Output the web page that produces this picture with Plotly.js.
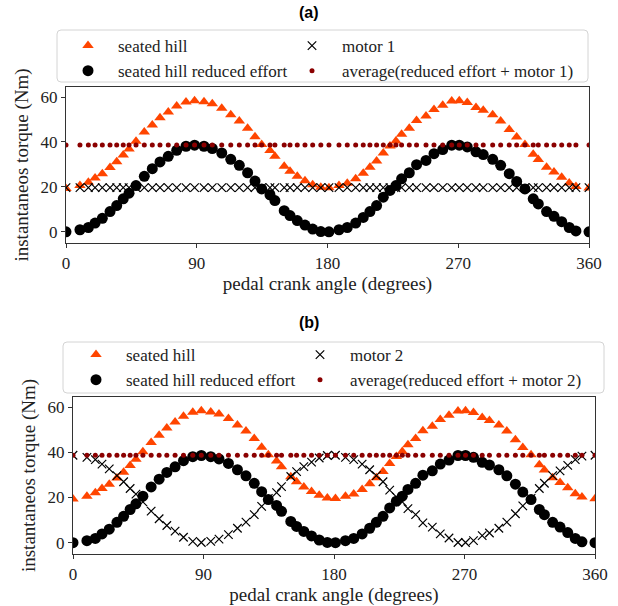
<!DOCTYPE html>
<html>
<head>
<meta charset="utf-8">
<script src="https://cdn.plot.ly/plotly-3.0.1.min.js"></script>
<style>html,body{margin:0;padding:0;background:#fff;}#chart{width:618px;height:606px;}</style>
</head>
<body>
<div id="chart"></div>
<script>
// pedal crank angle (degrees)
var angle = [0, 9.6, 15.4, 20, 25, 30.3, 34.9, 39.4, 43.4, 48.2, 53.9, 59.4, 64.7, 70.4, 76.2, 82.6, 88.5, 95, 100.7, 107.2, 113.4, 119.3, 125, 130.1, 134.7, 140.4, 143.8, 150.2, 154.2, 159.2, 164.5, 169.8, 175.4, 181, 187.9, 193.6, 199.4, 204.6, 209.2, 213.8, 218.4, 223, 227.1, 231, 236.3, 241.3, 247.8, 253.3, 259.3, 265.5, 270.7, 276.2, 282.2, 287.2, 293.7, 299.2, 305.1, 310.2, 315.9, 321.6, 325.1, 330.8, 335.9, 341.2, 346.4, 351, 360];

var seatedHill = [19.3, 20.6, 22.1, 24.0, 25.9, 28.6, 31.2, 34.2, 36.9, 40.3, 44.4, 47.6, 50.8, 53.4, 56.0, 57.8, 58.4, 57.9, 57.0, 55.0, 52.1, 49.4, 46.1, 42.3, 38.9, 36.2, 33.6, 29.2, 27.0, 24.7, 22.7, 21.0, 19.8, 19.6, 20.6, 21.6, 23.6, 26.1, 28.8, 31.5, 35.1, 38.2, 40.4, 43.4, 46.1, 49.6, 51.6, 54.5, 56.4, 58.3, 58.4, 57.6, 55.4, 54.1, 52.1, 49.4, 45.6, 42.2, 38.9, 34.5, 32.2, 28.8, 26.6, 24.3, 21.7, 20.2, 19.5];

var reducedEffort = [0, 0.9, 1.9, 3.9, 6.0, 9.0, 11.7, 14.7, 17.2, 20.6, 24.7, 28.1, 31.1, 33.6, 36.3, 38.1, 38.6, 38.1, 37.1, 35.1, 32.3, 29.6, 26.3, 22.6, 19.1, 16.5, 13.9, 9.4, 7.2, 5.0, 3.0, 1.2, 0.1, 0.0, 0.9, 1.9, 3.9, 6.4, 9.0, 11.7, 15.4, 18.4, 20.6, 23.6, 26.3, 29.9, 31.8, 34.8, 36.6, 38.6, 38.6, 37.8, 35.6, 34.4, 32.3, 29.6, 25.9, 22.4, 19.1, 14.7, 12.4, 9.0, 6.9, 4.5, 1.9, 0.4, 0.0];

var motor1 = [19.7, 19.7, 19.7, 19.7, 19.7, 19.7, 19.7, 19.7, 19.7, 19.7, 19.7, 19.7, 19.7, 19.7, 19.7, 19.7, 19.7, 19.7, 19.7, 19.7, 19.7, 19.7, 19.7, 19.7, 19.7, 19.7, 19.7, 19.7, 19.7, 19.7, 19.7, 19.7, 19.7, 19.7, 19.7, 19.7, 19.7, 19.7, 19.7, 19.7, 19.7, 19.7, 19.7, 19.7, 19.7, 19.7, 19.7, 19.7, 19.7, 19.7, 19.7, 19.7, 19.7, 19.7, 19.7, 19.7, 19.7, 19.7, 19.7, 19.7, 19.7, 19.7, 19.7, 19.7, 19.7, 19.7, 19.7];

var average1 = [38.7, 38.7, 38.7, 38.7, 38.7, 38.7, 38.7, 38.7, 38.7, 38.7, 38.7, 38.7, 38.7, 38.7, 38.7, 38.7, 38.7, 38.7, 38.7, 38.7, 38.7, 38.7, 38.7, 38.7, 38.7, 38.7, 38.7, 38.7, 38.7, 38.7, 38.7, 38.7, 38.7, 38.7, 38.7, 38.7, 38.7, 38.7, 38.7, 38.7, 38.7, 38.7, 38.7, 38.7, 38.7, 38.7, 38.7, 38.7, 38.7, 38.7, 38.7, 38.7, 38.7, 38.7, 38.7, 38.7, 38.7, 38.7, 38.7, 38.7, 38.7, 38.7, 38.7, 38.7, 38.7, 38.7, 38.7];

var motor2 = [38.7, 37.8, 36.8, 34.8, 32.7, 29.7, 27.0, 24.0, 21.5, 18.1, 14.0, 10.6, 7.6, 5.1, 2.4, 0.6, 0.1, 0.6, 1.6, 3.6, 6.4, 9.1, 12.4, 16.1, 19.6, 22.2, 24.8, 29.3, 31.5, 33.7, 35.7, 37.5, 38.6, 38.7, 37.8, 36.8, 34.8, 32.3, 29.7, 27.0, 23.3, 20.3, 18.1, 15.1, 12.4, 8.8, 6.9, 3.9, 2.1, 0.1, 0.1, 0.9, 3.1, 4.3, 6.4, 9.1, 12.8, 16.3, 19.6, 24.0, 26.3, 29.7, 31.8, 34.2, 36.8, 38.3, 38.7];

var average2 = [38.7, 38.7, 38.7, 38.7, 38.7, 38.7, 38.7, 38.7, 38.7, 38.7, 38.7, 38.7, 38.7, 38.7, 38.7, 38.7, 38.7, 38.7, 38.7, 38.7, 38.7, 38.7, 38.7, 38.7, 38.7, 38.7, 38.7, 38.7, 38.7, 38.7, 38.7, 38.7, 38.7, 38.7, 38.7, 38.7, 38.7, 38.7, 38.7, 38.7, 38.7, 38.7, 38.7, 38.7, 38.7, 38.7, 38.7, 38.7, 38.7, 38.7, 38.7, 38.7, 38.7, 38.7, 38.7, 38.7, 38.7, 38.7, 38.7, 38.7, 38.7, 38.7, 38.7, 38.7, 38.7, 38.7, 38.7];

var xTicks = [0, 90, 180, 270, 360];
var yTicks = [0, 20, 40, 60];
var panelTitles = ['(a)', '(b)'];
var names1 = ['seated hill', 'motor 1', 'seated hill reduced effort', 'average(reduced effort + motor 1)'];
var names2 = ['seated hill', 'motor 2', 'seated hill reduced effort', 'average(reduced effort + motor 2)'];
var xTitle = 'pedal crank angle (degrees)';
var yTitle = 'instantaneos torque (Nm)';

var W = 618, H = 606;
var SERIF = '"Liberation Serif", "Times New Roman", serif';
var ORANGE = '#ff4500', DARKRED = '#8b0000';

function px2x(p) { return p / W; }
function px2y(p) { return 1 - p / H; }

// legA: left column legend, legB: right column legend
function makeTraces(motor, avg, names, xa, ya, legA, legB) {
  return [
    {x: angle, y: seatedHill, name: names[0], type: 'scatter', mode: 'markers', xaxis: xa, yaxis: ya, legend: legA,
     marker: {symbol: 'triangle-up', size: 10, color: ORANGE}},
    {x: angle, y: motor, name: names[1], type: 'scatter', mode: 'markers', xaxis: xa, yaxis: ya, legend: legB,
     marker: {symbol: 'x-thin-open', size: 8.5, color: '#000', line: {color: '#000', width: 1.2}}},
    {x: angle, y: reducedEffort, name: names[2], type: 'scatter', mode: 'markers', xaxis: xa, yaxis: ya, legend: legA,
     marker: {symbol: 'circle', size: 11, color: '#000'}},
    {x: angle, y: avg, name: names[3], type: 'scatter', mode: 'markers', xaxis: xa, yaxis: ya, legend: legB,
     marker: {symbol: 'circle', size: 5, color: DARKRED}}
  ];
}

var data = makeTraces(motor1, average1, names1, 'x', 'y', 'legend', 'legend2')
  .concat(makeTraces(motor2, average2, names2, 'x2', 'y2', 'legend3', 'legend4'));

function xAxis(dom, anchor) {
  return {
    domain: dom, anchor: anchor, range: [0, 360], tickvals: xTicks, ticktext: xTicks.map(String),
    ticks: 'outside', ticklen: 4, tickwidth: 1, tickcolor: '#333',
    showline: true, linecolor: '#333', linewidth: 1.2, mirror: true,
    showgrid: false, zeroline: false, automargin: false,
    tickfont: {family: SERIF, size: 17, color: '#222'},
    title: {text: xTitle, font: {family: SERIF, size: 19, color: '#222'}, standoff: 4}
  };
}
function yAxis(dom, anchor) {
  return {
    domain: dom, anchor: anchor, range: [-5, 64.5], tickvals: yTicks, ticktext: yTicks.map(String),
    ticks: 'outside', ticklen: 4, tickwidth: 1, tickcolor: '#333',
    showline: true, linecolor: '#333', linewidth: 1.2, mirror: true,
    showgrid: false, zeroline: false, automargin: false,
    tickfont: {family: SERIF, size: 17, color: '#222'},
    title: {text: yTitle, font: {family: SERIF, size: 19, color: '#222'}, standoff: 6}
  };
}

function roundedBox(x0, y0, x1, y1, r) {
  var X = px2x, Y = px2y;
  return 'M' + X(x0 + r) + ',' + Y(y0) +
    ' L' + X(x1 - r) + ',' + Y(y0) + ' Q' + X(x1) + ',' + Y(y0) + ' ' + X(x1) + ',' + Y(y0 + r) +
    ' L' + X(x1) + ',' + Y(y1 - r) + ' Q' + X(x1) + ',' + Y(y1) + ' ' + X(x1 - r) + ',' + Y(y1) +
    ' L' + X(x0 + r) + ',' + Y(y1) + ' Q' + X(x0) + ',' + Y(y1) + ' ' + X(x0) + ',' + Y(y1 - r) +
    ' L' + X(x0) + ',' + Y(y0 + r) + ' Q' + X(x0) + ',' + Y(y0) + ' ' + X(x0 + r) + ',' + Y(y0) + ' Z';
}

function legendCfg(leftPx, topPx) {
  return {
    x: px2x(leftPx), y: px2y(topPx), xanchor: 'left', yanchor: 'top',
    orientation: 'v', itemwidth: 50, traceorder: 'normal',
    bgcolor: 'rgba(0,0,0,0)', borderwidth: 0,
    font: {family: SERIF, size: 17, color: '#222'},
    tracegroupgap: 0
  };
}

var layout = {
  width: W, height: H,
  margin: {l: 0, r: 0, t: 0, b: 0},
  paper_bgcolor: '#fff', plot_bgcolor: '#fff',
  showlegend: true,
  xaxis: xAxis([px2x(66), px2x(589)], 'y'),
  yaxis: yAxis([px2y(243), px2y(87)], 'x'),
  xaxis2: xAxis([px2x(73), px2x(595)], 'y2'),
  yaxis2: yAxis([px2y(554), px2y(397)], 'x2'),
  legend: legendCfg(58, 28),
  legend2: legendCfg(282, 28),
  legend3: legendCfg(66, 337),
  legend4: legendCfg(290, 337),
  shapes: [
    {type: 'path', xref: 'paper', yref: 'paper', layer: 'below', path: roundedBox(57, 30, 588, 82, 4),
     fillcolor: '#fff', line: {color: '#d4d4d4', width: 1}},
    {type: 'path', xref: 'paper', yref: 'paper', layer: 'below', path: roundedBox(63, 342, 604, 393, 4),
     fillcolor: '#fff', line: {color: '#d4d4d4', width: 1}}
  ],
  annotations: [
    {text: '<b>' + panelTitles[0] + '</b>', xref: 'paper', yref: 'paper', x: 0.5, y: px2y(12), showarrow: false,
     xanchor: 'center', yanchor: 'middle', font: {family: '"Liberation Sans", Arial, sans-serif', size: 16, color: '#000'}},
    {text: '<b>' + panelTitles[1] + '</b>', xref: 'paper', yref: 'paper', x: 0.5, y: px2y(322), showarrow: false,
     xanchor: 'center', yanchor: 'middle', font: {family: '"Liberation Sans", Arial, sans-serif', size: 16, color: '#000'}}
  ]
};

Plotly.newPlot('chart', data, layout, {displayModeBar: false, staticPlot: true});
</script>
</body>
</html>
